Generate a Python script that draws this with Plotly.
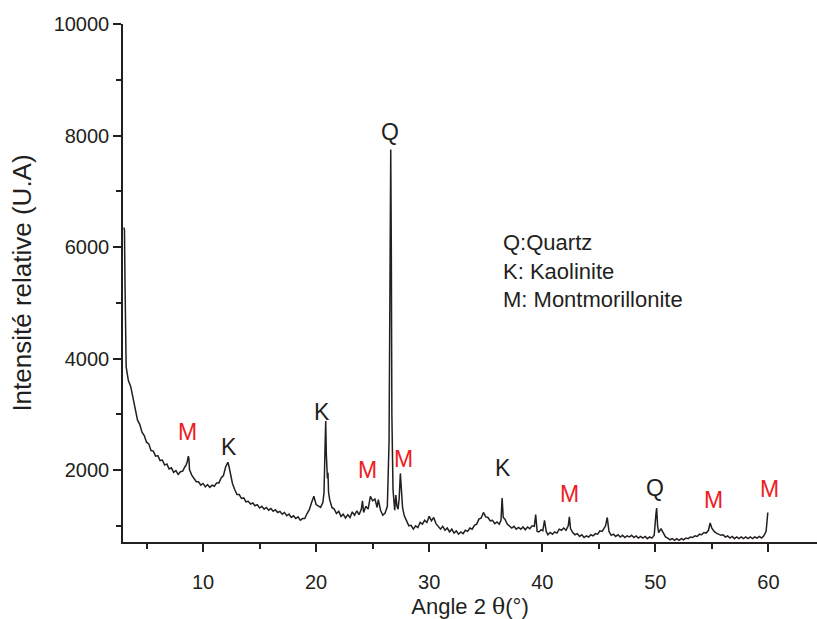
import plotly.graph_objects as go

# ---- data (2theta in degrees, intensity in a.u.) ----
two_theta = [
    3.0, 3.05, 3.1, 3.15, 3.2, 3.3, 3.4, 3.6, 3.8, 4.0,
    4.2, 4.4, 4.6, 4.8, 5.0, 5.2, 5.4, 5.6, 5.8, 6.0,
    6.2, 6.4, 6.6, 6.8, 7.0, 7.2, 7.4, 7.6, 7.8, 8.0,
    8.2, 8.4, 8.5, 8.6, 8.7, 8.75, 8.8, 9.0, 9.2, 9.4,
    9.6, 9.8, 10.0, 10.2, 10.4, 10.6, 10.8, 11.0, 11.2, 11.4,
    11.6, 11.8, 12.0, 12.1, 12.2, 12.3, 12.4, 12.6, 12.8, 13.0,
    13.2, 13.4, 13.6, 13.8, 14.0, 14.2, 14.4, 14.6, 14.8, 15.0,
    15.2, 15.4, 15.6, 15.8, 16.0, 16.2, 16.4, 16.6, 16.8, 17.0,
    17.2, 17.4, 17.6, 17.8, 18.0, 18.2, 18.4, 18.6, 18.8, 19.0,
    19.2, 19.4, 19.6, 19.8, 20.0, 20.2, 20.4, 20.6, 20.7, 20.8,
    20.85, 20.9, 21.0, 21.05, 21.1, 21.2, 21.4, 21.6, 21.8, 22.0,
    22.2, 22.4, 22.6, 22.8, 23.0, 23.2, 23.4, 23.6, 23.8, 24.0,
    24.1, 24.2, 24.4, 24.6, 24.8, 25.0, 25.2, 25.4, 25.5, 25.7,
    25.9, 26.1, 26.3, 26.45, 26.55, 26.6, 26.65, 26.7, 26.8, 26.9,
    26.95, 27.05, 27.15, 27.25, 27.35, 27.45, 27.55, 27.65, 27.8, 28.0,
    28.2, 28.4, 28.6, 28.8, 29.0, 29.2, 29.4, 29.6, 29.8, 30.0,
    30.2, 30.4, 30.6, 30.8, 31.0, 31.2, 31.4, 31.6, 31.8, 32.0,
    32.2, 32.4, 32.6, 32.8, 33.0, 33.2, 33.4, 33.6, 33.8, 34.0,
    34.2, 34.4, 34.6, 34.8, 35.0, 35.2, 35.4, 35.6, 35.8, 36.0,
    36.2, 36.35, 36.45, 36.55, 36.7, 36.9, 37.1, 37.3, 37.5, 37.7,
    37.9, 38.1, 38.3, 38.5, 38.7, 38.9, 39.1, 39.3, 39.42, 39.55,
    39.7, 39.9, 40.05, 40.2, 40.35, 40.5, 40.7, 40.9, 41.1, 41.3,
    41.5, 41.7, 41.9, 42.1, 42.3, 42.4, 42.5, 42.7, 42.9, 43.1,
    43.3, 43.5, 43.7, 43.9, 44.1, 44.3, 44.5, 44.7, 44.9, 45.1,
    45.3, 45.5, 45.6, 45.75, 45.9, 46.1, 46.3, 46.5, 46.7, 46.9,
    47.1, 47.3, 47.5, 47.7, 47.9, 48.1, 48.3, 48.5, 48.7, 48.9,
    49.1, 49.3, 49.5, 49.7, 49.9, 50.05, 50.12, 50.2, 50.3, 50.5,
    50.7, 50.9, 51.1, 51.3, 51.5, 51.7, 51.9, 52.1, 52.3, 52.5,
    52.7, 52.9, 53.1, 53.3, 53.5, 53.7, 53.9, 54.1, 54.3, 54.5,
    54.7, 54.85, 55.0, 55.2, 55.4, 55.6, 55.8, 56.0, 56.2, 56.4,
    56.6, 56.8, 57.0, 57.2, 57.4, 57.6, 57.8, 58.0, 58.2, 58.4,
    58.6, 58.8, 59.0, 59.2, 59.4, 59.6, 59.8, 59.95,
]
intensity = [
    6350, 6300, 5300, 4400, 3850, 3720, 3600, 3500, 3290, 3120,
    2900, 2820, 2680, 2620, 2500, 2470, 2350, 2340, 2250, 2260,
    2170, 2180, 2090, 2110, 2020, 2040, 1960, 1990, 1920, 1970,
    1980, 2060, 2090, 2150, 2250, 2200, 2010, 1910, 1860, 1790,
    1790, 1730, 1760, 1700, 1740, 1690, 1730, 1710, 1770, 1770,
    1860, 1900, 2060, 2090, 2140, 2060, 1960, 1760, 1650, 1560,
    1560, 1490, 1500, 1430, 1440, 1390, 1410, 1360, 1380, 1320,
    1350, 1300, 1330, 1280, 1310, 1260, 1290, 1240, 1260, 1210,
    1240, 1180, 1210, 1150, 1180, 1130, 1160, 1100, 1130, 1130,
    1220, 1290, 1420, 1530, 1380, 1360, 1330, 1420, 1600, 2500,
    2880, 2300, 1850, 1950, 1600, 1470, 1330, 1300, 1220, 1260,
    1170, 1210, 1140, 1200, 1150, 1250, 1190, 1270, 1200, 1300,
    1450, 1240, 1350, 1300, 1530, 1450, 1480, 1330, 1470, 1280,
    1190, 1230, 1350, 2500, 6500, 7750, 6000, 3000, 1650, 1400,
    1280, 1550, 1350, 1300, 1500, 1940, 1600, 1320, 1180, 1080,
    1000, 1010, 940, 1000, 970, 1060, 1030, 1100, 1060, 1170,
    1090, 1150, 1040, 990, 940, 990, 920, 960, 890, 940,
    870, 910, 850, 890, 860, 920, 900, 960, 940, 1010,
    1030, 1120, 1140, 1240, 1160, 1150, 1090, 1100, 1040, 1070,
    1030, 1100, 1500, 1150, 1120, 1030, 1000, 960, 990, 940,
    970, 940, 980, 930, 980, 950, 1000, 990, 1200, 900,
    890, 930, 910, 1100, 900, 840, 880, 850, 890, 870,
    940, 920, 960, 920, 1000, 1160, 950, 880, 840, 860,
    810, 840, 790, 820, 800, 840, 820, 860, 850, 910,
    900, 960, 1000, 1150, 900, 830, 850, 810, 840, 800,
    830, 790, 820, 800, 830, 790, 820, 780, 810, 780,
    810, 770, 800, 780, 830, 1200, 1320, 1000, 880, 950,
    870, 800, 780, 750, 770, 740, 770, 740, 770, 750,
    780, 770, 800, 790, 820, 810, 850, 840, 880, 870,
    920, 1050, 960, 900, 870, 850, 830, 840, 800, 820,
    780, 810, 770, 800, 770, 800, 770, 800, 770, 800,
    770, 800, 780, 810, 780, 820, 900, 1240,
]

# phase labels: letter, 2theta, intensity, red?
label_text = ["M", "K", "K", "Q", "M", "M", "K", "M", "Q", "M", "M"]
label_x = [8.64, 12.28, 20.5, 26.5, 24.57, 27.76, 36.5, 42.45, 49.96, 55.18, 60.14]
label_y = [2680, 2410, 3040, 8060, 2000, 2200, 2030, 1570, 1675, 1460, 1660]
label_red = [True, False, False, False, True, True, False, True, False, True, True]

legend_lines = ["Q:Quartz", "K: Kaolinite", "M: Montmorillonite"]
legend_y = [6090, 5566, 5064]

x_ticks = [10, 20, 30, 40, 50, 60]
x_minor = [5, 15, 25, 35, 45, 55]
y_ticks = [2000, 4000, 6000, 8000, 10000]
y_minor = [1000, 3000, 5000, 7000, 9000]

INK = "#231f20"
RED = "#ed1c24"
FONT = "Liberation Sans, Arial, sans-serif"

fig = go.Figure()
fig.add_trace(go.Scatter(x=two_theta, y=intensity, mode="lines",
                         line=dict(color=INK, width=1.5), showlegend=False,
                         hoverinfo="skip"))

for t, x, y, r in zip(label_text, label_x, label_y, label_red):
    fig.add_annotation(x=x, y=y, text=t, showarrow=False,
                       font=dict(family=FONT, size=23, color=RED if r else INK))

for t, y in zip(legend_lines, legend_y):
    fig.add_annotation(x=36.35, y=y, text=t, showarrow=False, xanchor="left",
                       font=dict(family=FONT, size=22, color=INK))

fig.update_layout(
    width=817, height=619,
    margin=dict(l=123, r=0, t=24, b=77),
    paper_bgcolor="white", plot_bgcolor="white",
    font=dict(family=FONT, color=INK),
    xaxis=dict(range=[2.92, 64.3], showgrid=False, zeroline=False,
               showline=True, linecolor=INK, linewidth=1.5,
               ticks="outside", ticklen=8, tickwidth=1.5, tickcolor=INK,
               tickvals=x_ticks, ticktext=[str(v) for v in x_ticks],
               tickfont=dict(family=FONT, size=20, color=INK),
               ticklabelstandoff=13,
               minor=dict(ticks="outside", ticklen=5, tickwidth=1.5, tickcolor=INK,
                          tickvals=x_minor),
               title=dict(text="Angle 2 <span style='font-family:DejaVu Serif'>θ</span>(°)",
                          font=dict(family=FONT, size=22, color=INK), standoff=7)),
    yaxis=dict(range=[710, 10000], showgrid=False, zeroline=False,
               showline=True, linecolor=INK, linewidth=1.5,
               ticks="outside", ticklen=8, tickwidth=1.5, tickcolor=INK,
               tickvals=y_ticks, ticktext=[str(v) for v in y_ticks],
               tickfont=dict(family=FONT, size=20, color=INK),
               minor=dict(ticks="outside", ticklen=5, tickwidth=1.5, tickcolor=INK,
                          tickvals=y_minor),
               title=dict(text="Intensité relative (U.A)",
                          font=dict(family=FONT, size=26, color=INK), standoff=15)),
)

fig.write_html("out.html")
